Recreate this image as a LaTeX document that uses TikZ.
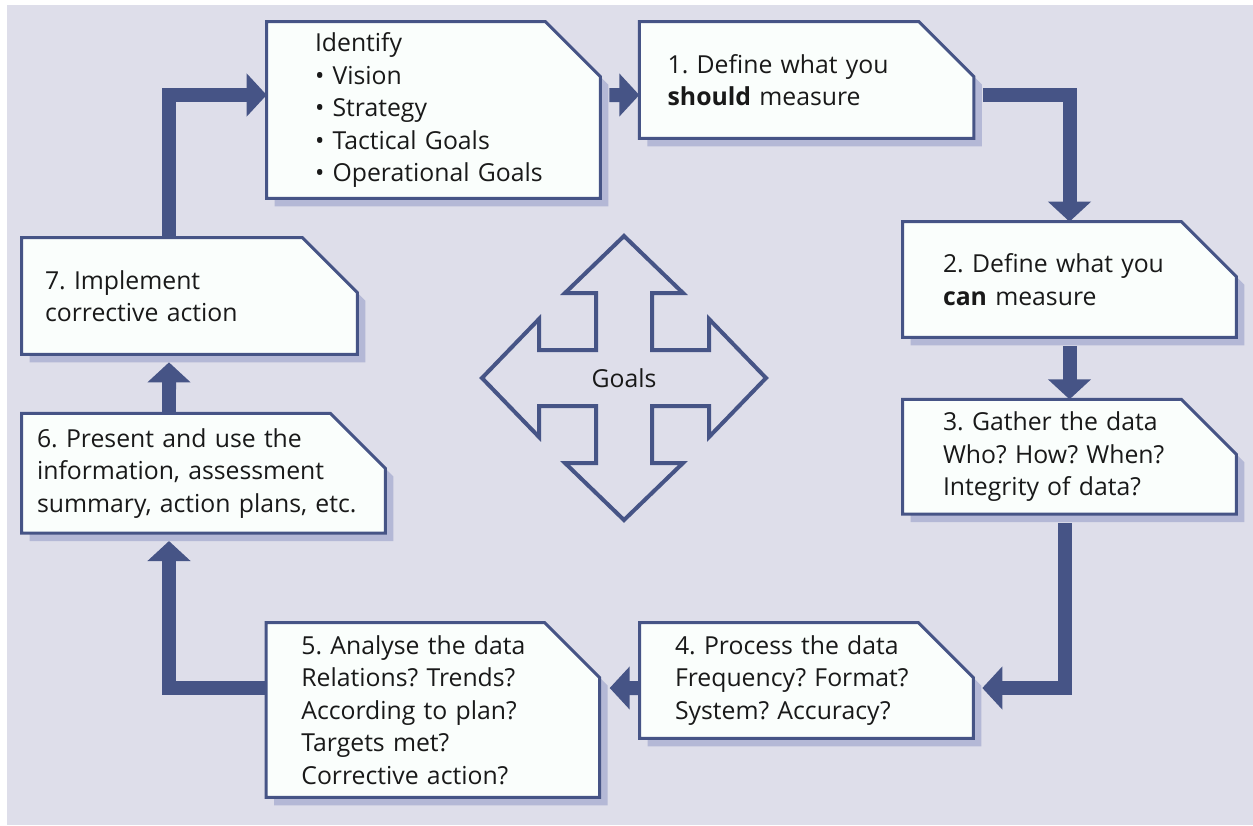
\documentclass[tikz,border=0pt]{standalone}
\usepackage{fontspec}
\setmainfont{Open Sans}
\usepackage{xcolor}
\usetikzlibrary{arrows.meta, positioning, backgrounds}
\frenchspacing

\definecolor{bgc}{RGB}{222,222,234}
\definecolor{linec}{RGB}{70,84,134}
\definecolor{shadowc}{RGB}{180,184,214}
\definecolor{boxc}{RGB}{250,254,252}

\begin{document}
\begin{tikzpicture}[x=0.02cm, y=-0.02cm,
    stepbox/.style={rectangle, inner sep=0pt, align=left, text=black!90, font=\fontsize{14.1}{18.5}\selectfont},
    boxline/.style={draw=linec, line width=0.06cm, fill=boxc, line join=miter},
    flow/.style={draw=linec, line width=0.28cm, line join=miter, -{Triangle[length=0.4cm, width=0.84cm]}},
    crossline/.style={draw=linec, line width=0.08cm, line join=miter}]
    \useasboundingbox (0,0) rectangle (1253,825);

    \node[stepbox, minimum width=6.66cm, minimum height=3.52cm, text width=4.74cm] (idb) at (433.5,110) {Identify\\• Vision\\• Strategy\\• Tactical Goals\\• Operational Goals};
    \node[stepbox, minimum width=6.68cm, minimum height=2.32cm, text width=5.56cm, right=0.78cm of idb.north east, anchor=north west] (b1) {1. Define what you\\\textbf{should} measure};

    \node[stepbox, minimum width=6.66cm, minimum height=2.30cm, text width=5.06cm] (b2) at (1069.5,279.5) {2. Define what you\\\textbf{can} measure};
    \node[stepbox, minimum width=6.66cm, minimum height=2.28cm, text width=5.06cm, below=1.24cm of b2] (b3) {3. Gather the data\\Who? How? When?\\Integrity of data?};

    \node[stepbox, minimum width=6.66cm, minimum height=2.30cm, text width=5.26cm] (b4) at (806.5,680.5) {4. Process the data\\Frequency? Format?\\System? Accuracy?};
    \node[stepbox, minimum width=6.66cm, minimum height=3.48cm, text width=5.26cm, left=0.8cm of b4.north west, anchor=north east] (b5) {5. Analyse the data\\Relations? Trends?\\According to plan?\\Targets met?\\Corrective action?};

    \node[stepbox, minimum width=6.70cm, minimum height=2.32cm, text width=5.78cm] (b7) at (189.5,296) {7. Implement\\corrective action};
    \node[stepbox, minimum width=7.26cm, minimum height=2.38cm, text width=6.66cm, below=1.18cm of b7.south west, anchor=north west] (b6) {6. Present and use the\\information, assessment\\summary, action plans, etc.};

    \node[stepbox] (goals) at (624,378) {Goals};

    \begin{scope}[on background layer]
        \fill[white] (0,0) rectangle (1253,825);
        \fill[bgc] (7,5) rectangle (1253,825);
        \foreach \n in {idb,b1,b2,b3,b4,b5,b6,b7} {
            \fill[shadowc] ([shift={(8,8)}]\n.south west) -- ([shift={(8,8)}]\n.north west) -- ([shift={(-47,8)}]\n.north east) -- ([shift={(8,63)}]\n.north east) -- ([shift={(8,8)}]\n.south east) -- cycle;
            \filldraw[boxline] (\n.south west) -- (\n.north west) -- ([shift={(-55,0)}]\n.north east) -- ([shift={(0,55)}]\n.north east) -- (\n.south east) -- cycle;
        }
    \end{scope}

    \draw[crossline, shift={(goals.center)}] (0,-142) -- (59,-85) -- (28,-85) -- (28,-28) -- (85,-28) -- (85,-59) -- (142,0) -- (85,59) -- (85,28) -- (28,28) -- (28,85) -- (59,85) -- (0,142) -- (-59,85) -- (-28,85) -- (-28,28) -- (-85,28) -- (-85,59) -- (-142,0) -- (-85,-59) -- (-85,-28) -- (-28,-28) -- (-28,-85) -- (-59,-85) -- cycle;

    \draw[flow, shorten <=0.18cm] ([shift={(0,-15)}]idb.east) -- ([shift={(0,15)}]b1.west);
    \draw[flow, shorten <=0.18cm] ([shift={(0,15)}]b1.east) -| (b2.north);
    \draw[flow, shorten <=0.18cm] (b2.south) -- (b3.north);
    \draw[flow, shorten <=0.18cm] ([shift={(-4.5,0)}]b3.south) |- ([shift={(9,7.5)}]b4.east);
    \draw[flow] ([shift={(0,7.5)}]b4.west) -- ([shift={(10,-22)}]b5.east);
    \draw[flow, shorten >=0.16cm] ([shift={(0,-22)}]b5.west) -| ([shift={(-34.5,0)}]b6.south);
    \draw[flow, shorten >=0.16cm] ([shift={(-34.5,0)}]b6.north) -- ([shift={(-20.5,0)}]b7.south);
    \draw[flow] ([shift={(-20.5,0)}]b7.north) |- ([shift={(0,-15)}]idb.west);
\end{tikzpicture}
\end{document}
